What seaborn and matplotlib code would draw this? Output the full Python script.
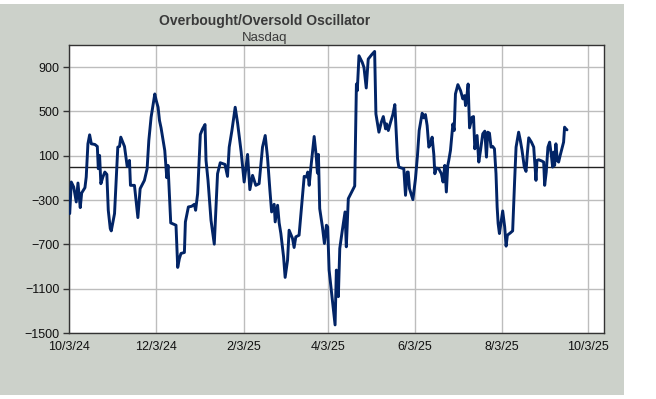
import pandas as pd
import matplotlib
matplotlib.use("Agg")
import matplotlib.pyplot as plt
from matplotlib.patches import Rectangle
import seaborn as sns

# days after 10/3/24
day_offset = [
    0.5, 1.6, 3.3, 5.1, 6.3, 7.9, 8.9, 11.2, 12.1, 13.3, 14.5, 15.7, 18.2, 19.9,
    20.6, 21.5, 22.4, 23.8, 25.2, 26.6, 27.6, 29.0, 29.7, 32.0, 34.3, 35.5, 36.4,
    39.0, 40.9, 42.5, 43.2, 46.0, 48.4, 50.0, 53.0, 54.9, 56.1, 57.7, 60.3, 61.2,
    62.6, 63.6, 64.7, 67.3, 68.7, 69.6, 71.5, 75.2, 76.4, 77.6, 78.7, 81.1, 81.8,
    83.9, 86.2, 88.1, 89.0, 90.4, 92.3, 93.9, 95.6, 96.3, 97.7, 99.8, 102.1,
    103.5, 104.4, 106.3, 109.6, 111.4, 112.6, 114.5, 116.8, 118.5, 121.0, 123.1,
    125.5, 127.1, 129.0, 131.3, 133.6,
    136.0, 137.9, 139.5, 141.2, 142.4, 144.2, 144.9, 146.6, 147.7, 148.9, 150.8,
    151.9, 153.6, 154.7, 157.1, 158.2, 159.4, 161.7, 163.6, 165.3, 166.9, 167.8,
    168.8, 169.9, 172.3, 173.7, 174.6, 175.3, 176.2, 178.1, 179.5, 180.9, 181.8,
    182.8, 184.6, 187.0, 187.9, 189.3, 190.3, 192.1, 194.0, 194.9, 196.3, 198.7,
    200.8, 202.0, 202.6, 203.8, 206.1, 207.3, 208.9, 210.3, 212.7, 214.8, 215.7,
    217.8, 219.5, 220.9, 222.5, 223.2, 224.4, 226.0, 227.6, 229.0, 230.9, 231.8,
    233.7, 235.3, 236.5, 237.7, 238.4, 239.3, 241.7, 243.5, 244.9, 246.1, 248.2,
    249.4, 250.5, 251.7, 252.9, 254.0, 255.2, 256.4, 257.1, 258.2, 259.9, 261.7,
    262.9, 264.1, 264.5, 265.2, 266.2, 266.9,
    268.1, 269.8, 270.7, 271.6, 273.3, 275.2, 276.8, 278.0, 278.7, 279.8, 280.5,
    281.5, 283.3, 284.3, 285.2, 286.8, 288.0, 289.2, 290.8, 292.2, 293.4, 294.3,
    295.5, 296.6, 297.8, 299.0, 300.1, 300.9, 301.6, 302.5, 303.7, 304.8, 306.2,
    307.2, 308.1, 310.2, 311.8, 313.2, 314.2, 316.0, 317.2, 318.4, 320.0, 321.2,
    322.1, 323.1, 325.0, 326.6, 328.2, 328.9, 330.1, 332.4, 333.6, 334.3, 335.4,
    336.6, 337.8, 339.0, 339.9, 340.6, 341.3, 342.2, 343.2, 344.1, 345.2, 346.4,
    347.6, 348.3, 349.2, 350.0,
]
oscillator = [
    -422, -137, -182, -317, -146, -368, -236, -188, -92, 208, 289, 208, 202, 184,
    -17, 103, -152, -92, -47, -68, -392, -557, -578, -422, 178, 184, 268,
    184, 4, 58, -167, -167, -458, -197, -122, -17, 238, 448, 658, 604,
    538, 418, 352, 148, -98, 13, -506, -527, -908, -827, -782, -773, -497,
    -362, -356, -338, -392, -242, 292, 343, 382, 58, -122, -482, -698,
    -302, -62, 37, 22, -86, 178, 328, 538, 394, 133, -137,
    112, -206, -77, -167, -152,
    178, 283, 88, -212, -407, -338, -497, -347, -506, -602, -812,
    -998, -842, -572, -647, -728, -632, -617, -332, -86, -92, -47,
    -167, -17, 274, 103, -56, 112, -377, -542, -692, -527, -542,
    -932, -1142, -1427, -932, -1172, -737, -572, -407, -722, -287, -227,
    -173, 748, 688, 1003, 943, 898, 712, 973, 1012, 1042, 478,
    313, 403, 454, 343, 388, 328, 403, 472, 562, 73, -2,
    -11, -17, -257, -47, -47, -197, -296, -107, 103, 328, 484,
    442, 472, 373, 178, 202, 268, 112, -62, -11, -17, -62,
    -137, 13, -77, -227, 13, 58,
    148, 388, 328, 658, 742, 688, 613, 643, 553, 658, 748,
    352, 448, 454, 163, 283, 43, 148, 298, 322, 88, 313,
    304, 178, 184, 163, -62, -362, -512, -602, -497, -398, -542,
    -716, -617, -596, -578, -122, 178, 313, 238, 148, -2, -41,
    118, 262, 223, 178, -122, 58, 64, 52, 43, -167, -47,
    178, 223, 103, -2, 133, 13, 208, 58, 43, 103, 163,
    223, 358, 343, 334,
]
y_ticks = [-1500, -1100, -700, -300, 100, 500, 900]
x_ticks = ["2024-10-03", "2024-12-03", "2025-02-03", "2025-04-03",
           "2025-06-03", "2025-08-03", "2025-10-03"]

start = pd.Timestamp("2024-10-03")
df = pd.DataFrame({
    "date": start + pd.to_timedelta(day_offset, unit="D"),
    "value": oscillator,
})

sns.set_style("white")
plt.rcParams["font.family"] = ["Liberation Sans", "DejaVu Sans"]

fig = plt.figure(figsize=(6.56, 3.99), dpi=100, facecolor="white")
# grey chart area, spreadsheet shows white around it
fig.patches.append(Rectangle((0, 4 / 399), 624 / 656, 391 / 399,
                             transform=fig.transFigure, facecolor="#CCD1CA",
                             edgecolor="none", zorder=-10))
ax = fig.add_axes([69 / 656, 1 - 333 / 399, 535 / 656, 288 / 399])
ax.set_zorder(1)
ax.set_facecolor("white")

sns.lineplot(data=df, x="date", y="value", ax=ax, color="#022466",
             linewidth=2.1, zorder=3)
ax.axhline(0, color="#222222", linewidth=1, zorder=2)

ax.set_ylim(-1500, 1100)
ax.set_xlim(pd.Timestamp("2024-10-03"), pd.Timestamp("2025-10-14"))
ax.set_yticks(y_ticks)
tick_dates = pd.to_datetime(x_ticks)
ax.set_xticks(tick_dates)
ax.set_xticklabels([f"{d.month}/{d.day}/{d.strftime('%y')}" for d in tick_dates])

ax.grid(True, color="#BDBDBD", linewidth=1)
ax.set_axisbelow(True)
for s in ax.spines.values():
    s.set_color("#333333")
    s.set_linewidth(1)

ax.tick_params(axis="y", which="major", length=4, width=1, color="#333333",
               labelsize=9, pad=3, left=True, labelcolor="#111111")
ax.tick_params(axis="x", length=0, labelsize=9, pad=6, labelcolor="#111111")
ax.set_xlabel("")
ax.set_ylabel("")

fig.text(265 / 656, 1 - 21 / 399, "Overbought/Oversold Oscillator",
         ha="center", va="center", fontsize=10, fontweight="bold", color="#3A3A3A")
fig.text(265 / 656, 1 - 38 / 399, "Nasdaq", ha="center", va="center",
         fontsize=9.5, color="#3A3A3A")

fig.savefig("out.png", dpi=100, facecolor=fig.get_facecolor())
